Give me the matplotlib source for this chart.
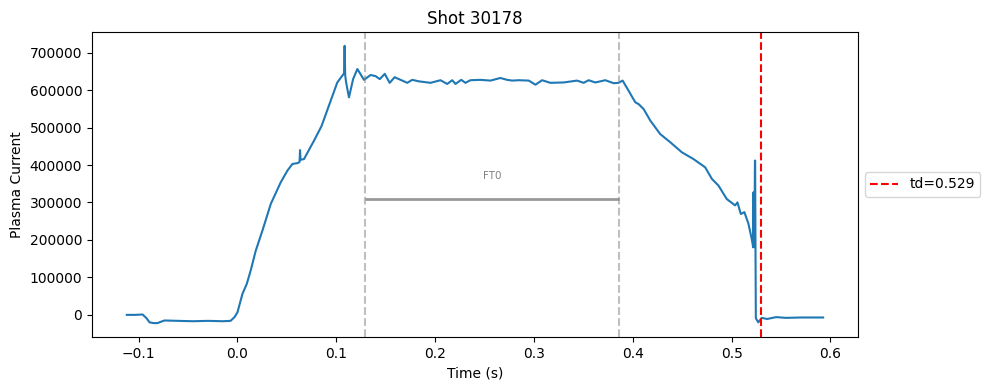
import matplotlib
matplotlib.use("Agg")
import matplotlib.pyplot as plt

title = "Shot 30178"
t_disrupt = 0.529
td_line = 0.530
ft_start = 0.129
ft_end = 0.386
ft_level = 310000
ft_label = "FT0"

time_s = [-0.112, -0.104, -0.096, -0.092, -0.089, -0.085, -0.081, -0.077, -0.074, -0.060, -0.045,
          -0.030, -0.015, -0.007, -0.003, 0.000, 0.005, 0.0094, 0.0134, 0.0185, 0.0253, 0.0337,
          0.0438, 0.0505, 0.0556, 0.0606, 0.0628, 0.0633, 0.0638, 0.0673, 0.0774, 0.085, 0.0943,
          0.101, 0.106, 0.1078, 0.1084, 0.1090, 0.1100, 0.1128, 0.117, 0.1213, 0.128, 0.1347,
          0.1397, 0.144, 0.149, 0.154, 0.159, 0.165, 0.1718, 0.1768, 0.1835, 0.1953, 0.2054,
          0.2122, 0.2173, 0.2206, 0.2264, 0.2307, 0.2357, 0.2459, 0.2560, 0.266, 0.2728, 0.278,
          0.2846, 0.2947, 0.3015, 0.3082, 0.3166, 0.330, 0.3436, 0.3503, 0.3553, 0.362, 0.3722,
          0.3806, 0.3856, 0.3897, 0.3957, 0.4025, 0.4059, 0.4109, 0.4177, 0.4277, 0.4379,
          0.4497, 0.4614, 0.4732, 0.480, 0.4867, 0.4951, 0.5035, 0.5059, 0.5093, 0.5129, 0.517,
          0.5205, 0.5218, 0.5221, 0.5224, 0.5230, 0.5236, 0.5238, 0.5241, 0.5245, 0.527, 0.5305,
          0.536, 0.545, 0.555, 0.570, 0.5926]
current_k = [-1, -1, 0, -10, -21, -23, -23, -19, -16, -17, -18,
             -17, -18, -17, -7, 6, 55, 82, 118, 171, 225, 296,
             354, 385, 403, 405, 408, 440, 414, 416, 465, 504, 572,
             621, 639, 645, 719, 640, 620, 581, 630, 657, 628, 641,
             638, 630, 644, 620, 635, 628, 620, 628, 624, 620, 627,
             617, 627, 617, 628, 620, 627, 628, 626, 633, 628, 626,
             627, 626, 615, 627, 620, 621, 626, 620, 627, 621, 627,
             619, 620, 626, 599, 568, 563, 550, 519, 483, 461,
             434, 416, 394, 363, 345, 309, 292, 300, 269, 274, 243,
             200, 180, 327, 180, 185, 412, 412, 200, -10, -21, -9,
             -12, -7, -9, -8, -8]

current = [c * 1000 for c in current_k]

fig, ax = plt.subplots(figsize=(9.89, 3.9), dpi=100)
ax.plot(time_s, current, color="#1f77b4", lw=1.5)
ax.axvline(ft_start, color="gray", ls="--", alpha=0.5)
ax.axvline(ft_end, color="gray", ls="--", alpha=0.5)
ax.hlines(ft_level, ft_start, ft_end, color="gray", lw=2, alpha=0.8)
ax.text((ft_start + ft_end) / 2, ft_level * 1.2, ft_label, ha="center", va="center",
        fontsize=7.5, color="gray")
ax.axvline(td_line, color="red", ls="--", label=f"td={t_disrupt}")
ax.set_title(title)
ax.set_xlabel("Time (s)")
ax.set_ylabel("Plasma Current")
ax.legend(loc="center left", bbox_to_anchor=(1.0, 0.5))
fig.subplots_adjust(left=0.093, right=0.8675, top=0.918, bottom=0.136)
fig.savefig("out.png", dpi=100)
